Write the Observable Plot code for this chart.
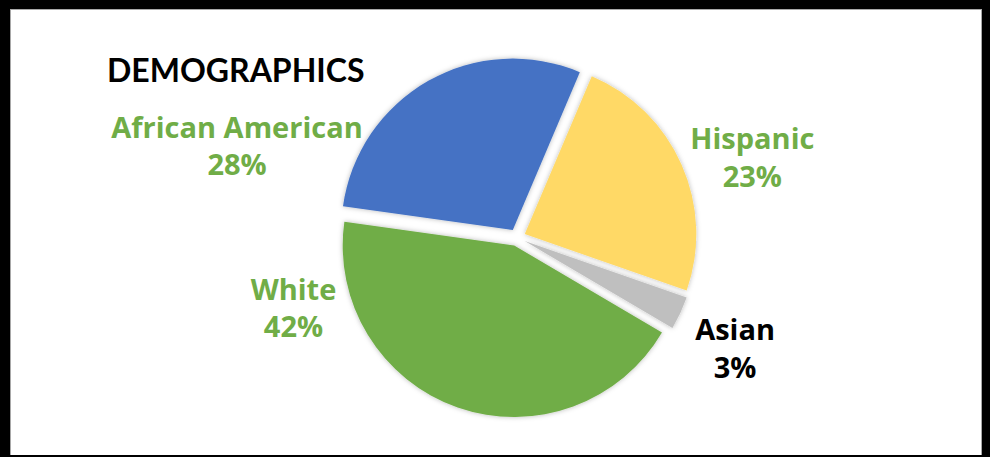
<!DOCTYPE html>
<html>
<head>
<meta charset="utf-8">
<script src="https://cdn.jsdelivr.net/npm/d3@7"></script>
<script src="https://cdn.jsdelivr.net/npm/@observablehq/plot@0.6"></script>
<style>
  html, body { margin: 0; padding: 0; background: #fff; width: 993px; height: 457px; overflow: hidden; }
  #frame { position: absolute; left: 0; top: 0; width: 990px; height: 457px; box-sizing: border-box;
           border-left: 10px solid #000; border-top: 9px solid #000; border-right: 8px solid #000; border-bottom: 2px solid #000; }
  #inner { position: absolute; left: 0; top: 0; right: 0; bottom: 0; box-shadow: inset 1px 1px 0 #a8a8a8, inset -1px 0 0 #a8a8a8; }
  #chart { position: absolute; left: 0; top: 0; }
  #title { position: absolute; left: 107px; top: 50px; font: bold 32px Lato, sans-serif; color: #000; line-height: 40px; white-space: nowrap; }
</style>
</head>
<body>
<div id="frame"><div id="inner"></div></div>
<div id="chart"></div>
<div id="title">DEMOGRAPHICS</div>
<script>
// ---- data ----
const categories = ["African American", "Hispanic", "Asian", "White"];
const shares = [28, 23, 3, 42];
const valueLabels = ["28%", "23%", "3%", "42%"];

// ---- styles / layout ----
const sliceColors = ["#4472C4", "#FFD966", "#BFBFBF", "#70AD47"];
const labelColors = ["#70AD47", "#70AD47", "#000000", "#70AD47"];
const startAngle = -82 * Math.PI / 180;
const explode = 8.5;
const labelOffsets = [[-196, 56], [78, -12.5], [62, 37], [-167.5, -93]];
const W = 993, H = 457, cx = 517, cy = 237.5, R = 171.5;

const color = Plot.scale({color: {type: "ordinal", domain: categories, range: sliceColors}});

const data = categories.map((c, i) => ({category: c, share: shares[i], label: c + "\n" + valueLabels[i]}));
const arcs = d3.pie().value(d => d.share).sort(null)
  .startAngle(startAngle).endAngle(startAngle + 2 * Math.PI)(data);
arcs.forEach(a => {
  a.mid = (a.startAngle + a.endAngle) / 2;
  a.ux = Math.sin(a.mid);
  a.uy = Math.cos(a.mid);
});

function pieMark(...args) {
  const scales = args.find(a => a && typeof a.x === "function" && typeof a.y === "function");
  const x0 = scales.x(0), y0 = scales.y(0), r = scales.x(1) - scales.x(0);
  const arc = d3.arc().innerRadius(0).outerRadius(r);
  const g = d3.create("svg:g");
  const f = g.append("defs").append("filter").attr("id", "pieShadow")
    .attr("x", "-20%").attr("y", "-20%").attr("width", "140%").attr("height", "140%");
  f.append("feDropShadow").attr("dx", 0).attr("dy", 0).attr("stdDeviation", 2.5)
    .attr("flood-color", "#000").attr("flood-opacity", 0.28);
  g.append("g").attr("filter", "url(#pieShadow)")
    .selectAll("path").data(arcs).join("path")
    .attr("transform", d => `translate(${x0 + d.ux * explode},${y0 - d.uy * explode})`)
    .attr("d", arc)
    .attr("fill", d => color.apply(d.data.category));
  return g.node();
}

const labelMarks = arcs.map((a, i) => Plot.text([a], {
  x: d => d.ux, y: d => d.uy, text: d => d.data.label,
  dx: labelOffsets[i][0], dy: labelOffsets[i][1],
  fill: labelColors[i], fontSize: 29, fontWeight: "bold", fontFamily: "'Open Sans', sans-serif",
  lineHeight: 1.28, textAnchor: "middle"
}));

const chart = Plot.plot({
  width: W, height: H,
  marginLeft: cx - R, marginRight: W - cx - R, marginTop: cy - R, marginBottom: H - cy - R,
  x: {domain: [-1, 1], axis: null},
  y: {domain: [-1, 1], axis: null},
  style: {background: "transparent", overflow: "visible"},
  marks: [pieMark, ...labelMarks]
});
document.getElementById("chart").append(chart);
</script>
</body>
</html>
